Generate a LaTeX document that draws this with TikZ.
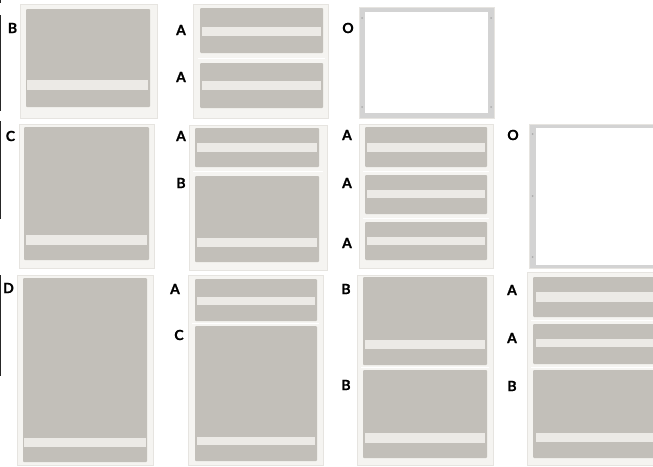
\documentclass[tikz,border=0pt]{standalone}
\usepackage{fontspec}
\setmainfont{Lato}[BoldFeatures={FakeBold=0.8}]
\definecolor{framecol}{HTML}{F5F4F1}
\definecolor{frameedge}{HTML}{E6E4E0}
\definecolor{panelgray}{HTML}{C2BFB9}
\definecolor{stripcol}{HTML}{ECEAE6}
\definecolor{emptyframe}{HTML}{D3D3D3}
\definecolor{screw}{HTML}{ACACAC}
\tikzset{
  frame/.style={fill=framecol, draw=frameedge, line width=0.6pt},
  graypanel/.style={fill=panelgray, rounded corners=1pt},
  strip/.style={fill=stripcol},
  emptyouter/.style={fill=emptyframe, draw=frameedge, line width=0.5pt},
  emptyinner/.style={fill=white},
  screwdot/.style={fill=screw},
  divider/.style={draw=white, line width=1pt},
  bar/.style={draw=black!85, line width=1.2pt},
  lab/.style={font=\bfseries\fontsize{14}{14}\selectfont, text=black, inner sep=0pt}
}
\begin{document}
\begin{tikzpicture}[x=1pt,y=-1pt]
\useasboundingbox (0,0) rectangle (653,466);
\clip (0,0) rectangle (653,466);
\fill[white] (0,0) rectangle (653,466);

% left bars
\coordinate (b1a) at (0.6,0); \coordinate (b1b) at (0.6,3);
\coordinate (b1c) at (0.6,15); \coordinate (b1d) at (0.6,111);
\draw[bar] (b1a) -- (b1b);
\draw[bar] (b1c) -- (b1d);
\coordinate (b2a) at (0.6,121); \coordinate (b2b) at (0.6,219);
\draw[bar] (b2a) -- (b2b);
\coordinate (b3a) at (0.6,275); \coordinate (b3b) at (0.6,376);
\draw[bar] (b3a) -- (b3b);

% ===== Row 1 =====
% panel B
\draw[frame] (20,4) rectangle (157,118);
\fill[graypanel] (26,9) rectangle (150,107);
\fill[strip] (27,80) rectangle (148,90);
% panel A A
\draw[frame] (193,4) rectangle (328,118);
\fill[graypanel] (200,8) rectangle (323,53);
\fill[strip] (202,27) rectangle (321,36);
\draw[divider] (198,58) -- (325,58);
\fill[graypanel] (200,63) rectangle (323,108);
\fill[strip] (202,81) rectangle (321,90);
% panel O
\draw[emptyouter] (359,7) rectangle (494,118);
\fill[emptyinner] (365,12) rectangle (488,113);
\foreach \px/\py in {362/18, 362/107, 491/18, 491/107} \fill[screwdot] (\px,\py) circle (1pt);

% ===== Row 2 =====
% panel C
\draw[frame] (19,124) rectangle (154,268);
\fill[graypanel] (24,127) rectangle (149,260);
\fill[strip] (26,235) rectangle (147,245);
% panel A B
\draw[frame] (189,125) rectangle (327,270);
\fill[graypanel] (195,128) rectangle (319,167);
\fill[strip] (197,143) rectangle (317,152);
\draw[divider] (193,171.5) -- (323,171.5);
\fill[graypanel] (195,176) rectangle (319,262);
\fill[strip] (197,238) rectangle (317,247);
% panel A A A
\draw[frame] (359,124) rectangle (493,268);
\fill[graypanel] (365,127) rectangle (487,167);
\fill[strip] (367,143) rectangle (485,152);
\draw[divider] (363,171) -- (489,171);
\fill[graypanel] (365,175) rectangle (487,214);
\fill[strip] (367,190) rectangle (485,198);
\draw[divider] (363,218) -- (489,218);
\fill[graypanel] (365,222) rectangle (487,260);
\fill[strip] (367,237) rectangle (485,245);
% panel O (cut at right)
\draw[emptyouter] (529,124) rectangle (665,268);
\fill[emptyinner] (536,128) rectangle (665,265);
\foreach \py in {134, 196, 257} \fill[screwdot] (532.5,\py) circle (1pt);

% ===== Row 3 =====
% panel D
\draw[frame] (17,275) rectangle (153,465);
\fill[graypanel] (23,278) rectangle (147,462);
\fill[strip] (24,438) rectangle (146,447);
% panel A C
\draw[frame] (188,275) rectangle (323,465);
\fill[graypanel] (195,279) rectangle (317,321);
\fill[strip] (197,297) rectangle (315,305);
\draw[divider] (192,323.5) -- (319,323.5);
\fill[graypanel] (195,326) rectangle (317,461);
\fill[strip] (197,437) rectangle (315,445);
% panel B B
\draw[frame] (357,275) rectangle (493,465);
\fill[graypanel] (363,277) rectangle (487,365);
\fill[strip] (365,340) rectangle (485,349);
\draw[divider] (361,367.5) -- (489,367.5);
\fill[graypanel] (363,370) rectangle (487,458);
\fill[strip] (365,433) rectangle (485,443);
% panel A A B (cut at right)
\draw[frame] (527,272) rectangle (665,465);
\fill[graypanel] (533,277) rectangle (665,317);
\fill[strip] (536,292) rectangle (665,302);
\draw[divider] (531,320.5) -- (665,320.5);
\fill[graypanel] (533,324) rectangle (665,364);
\fill[strip] (536,339) rectangle (665,347);
\draw[divider] (531,367) -- (665,367);
\fill[graypanel] (533,370) rectangle (665,458);
\fill[strip] (536,433) rectangle (665,442);

% ===== Labels =====
\node[lab] (l1) at (12.5,28) {B};
\node[lab] (l2) at (181,30) {A};
\node[lab] (l3) at (181,77) {A};
\node[lab] (l4) at (348,28) {O};
\node[lab] (l5) at (10.5,136) {C};
\node[lab] (l6) at (181,136) {A};
\node[lab] (l7) at (181,183) {B};
\node[lab] (l8) at (347,135) {A};
\node[lab] (l9) at (347,183) {A};
\node[lab] (l10) at (347,243) {A};
\node[lab] (l11) at (513,135) {O};
\node[lab] (l12) at (8.5,288) {D};
\node[lab] (l13) at (175,289) {A};
\node[lab] (l14) at (179,335) {C};
\node[lab] (l15) at (346,289) {B};
\node[lab] (l16) at (346,385) {B};
\node[lab] (l17) at (512,290) {A};
\node[lab] (l18) at (512,338) {A};
\node[lab] (l19) at (512,386) {B};
\end{tikzpicture}
\end{document}
